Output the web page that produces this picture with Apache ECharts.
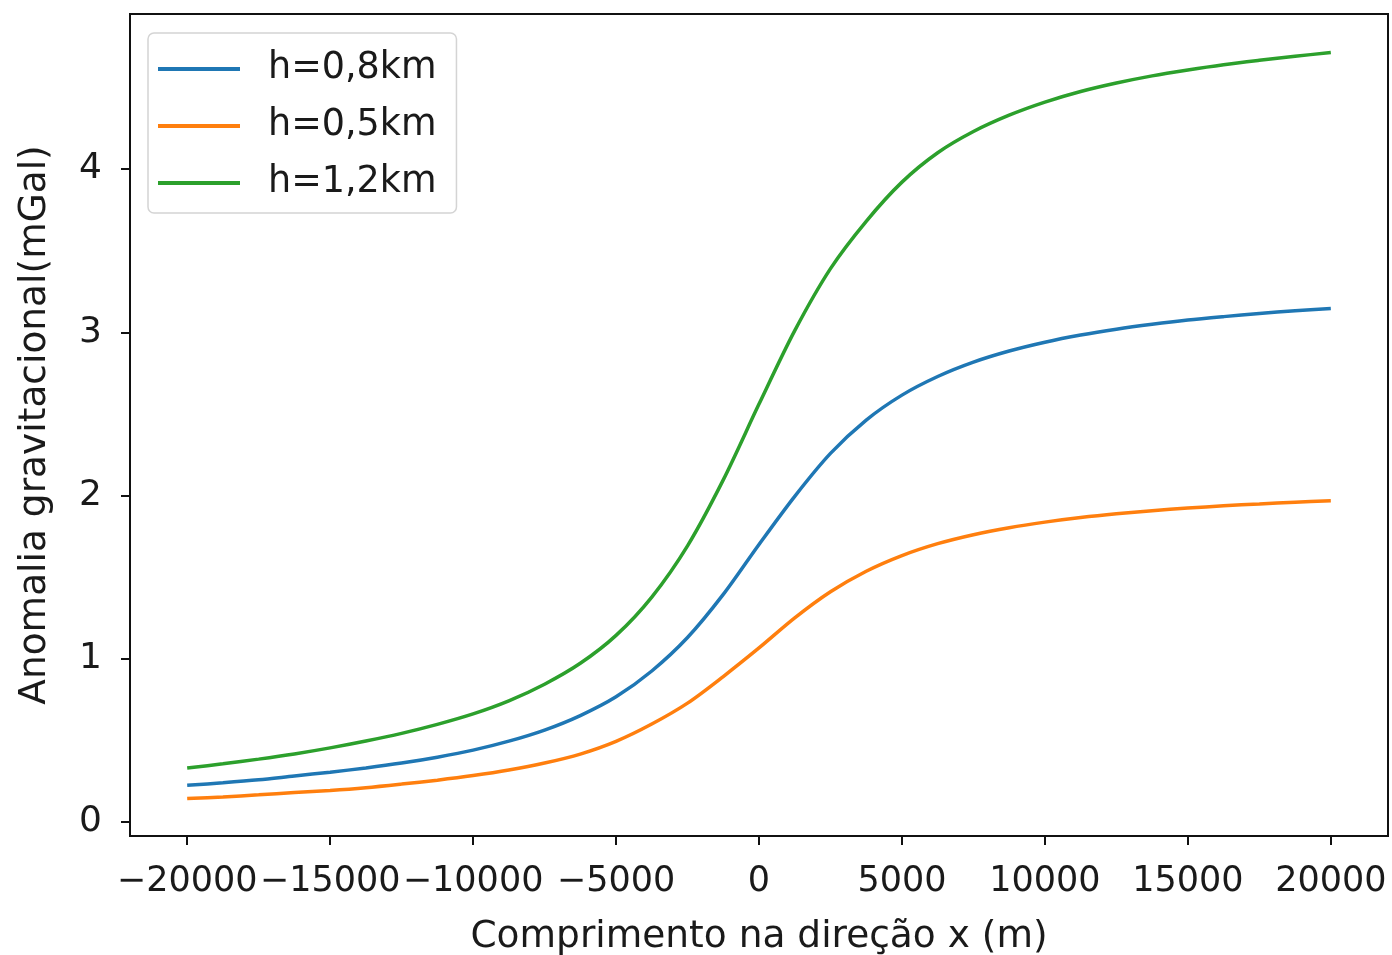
<!DOCTYPE html>
<html>
<head>
<meta charset="utf-8">
<script src="https://cdn.jsdelivr.net/npm/echarts@6/dist/echarts.min.js"></script>
<style>
  html, body { margin: 0; padding: 0; background: #fff; }
  #main { width: 1392px; height: 955px; }
</style>
</head>
<body>
<div id="main"></div>
<script>
// x positions (m), every 1250 m from -20000 to 20000
const xs = [-20000, -18750, -17500, -16250, -15000, -13750, -12500, -11250, -10000,
  -8750, -7500, -6250, -5000, -3750, -2500, -1250, 0,
  1250, 2500, 3750, 5000, 6250, 7500, 8750, 10000,
  11250, 12500, 13750, 15000, 16250, 17500, 18750, 20000];

// anomalia (mGal)
const h08 = [0.225, 0.240, 0.258, 0.282, 0.305, 0.331, 0.361, 0.397, 0.440,
  0.495, 0.563, 0.652, 0.767, 0.925, 1.130, 1.394, 1.700,
  1.995, 2.258, 2.462, 2.615, 2.729, 2.817, 2.885, 2.939,
  2.983, 3.019, 3.049, 3.075, 3.096, 3.115, 3.132, 3.146];
const h05 = [0.143, 0.153, 0.166, 0.180, 0.193, 0.210, 0.232, 0.256, 0.284,
  0.318, 0.361, 0.416, 0.494, 0.600, 0.728, 0.891, 1.066,
  1.250, 1.410, 1.536, 1.632, 1.705, 1.760, 1.803, 1.837,
  1.865, 1.888, 1.907, 1.923, 1.937, 1.948, 1.959, 1.968];
const h12 = [0.330, 0.356, 0.385, 0.417, 0.454, 0.496, 0.543, 0.598, 0.662,
  0.742, 0.844, 0.972, 1.143, 1.378, 1.692, 2.096, 2.560,
  3.010, 3.390, 3.680, 3.920, 4.100, 4.230, 4.330, 4.410,
  4.475, 4.527, 4.571, 4.607, 4.639, 4.666, 4.691, 4.714];

const xTicks = [-20000, -15000, -10000, -5000, 0, 5000, 10000, 15000, 20000];
const yTicks = [0, 1, 2, 3, 4];

const seriesNames = ['h=0,8km', 'h=0,5km', 'h=1,2km'];
const seriesData = [h08, h05, h12];
const colors = ['#1f77b4', '#ff7f0e', '#2ca02c'];

const zip = (ys) => xs.map((x, i) => [x, ys[i]]);
const minus = (v) => String(v).replace('-', '\u2212');

var chart = echarts.init(document.getElementById('main'));
var font = 'DejaVu Sans';

var option = {
  backgroundColor: '#fff',
  animation: false,
  color: colors,
  grid: {
    left: 130, top: 14, right: 4, bottom: 119,
    outerBoundsMode: 'none',
    show: true, borderColor: '#111', borderWidth: 2, backgroundColor: 'transparent'
  },
  legend: {
    orient: 'vertical',
    left: 148, top: 33,
    icon: 'rect',
    itemWidth: 82, itemHeight: 4,
    itemGap: 17,
    padding: [16, 20, 10, 10],
    backgroundColor: '#fff',
    borderColor: '#d4d4d4', borderWidth: 1.5, borderRadius: 6,
    textStyle: { fontFamily: font, fontSize: 36.5, color: '#1a1a1a', lineHeight: 40, padding: [0, 0, 0, 23] },
    data: seriesNames
  },
  xAxis: {
    type: 'value',
    min: -22000, max: 22000,
    name: 'Comprimento na direção x (m)',
    nameLocation: 'middle', nameGap: 82,
    nameTextStyle: { fontFamily: font, fontSize: 37.5, color: '#1a1a1a' },
    splitLine: { show: false },
    axisLine: { show: true, onZero: false, lineStyle: { color: '#111', width: 2 } },
    axisTick: { show: true, customValues: xTicks, length: 9, lineStyle: { color: '#111', width: 2 } },
    axisLabel: {
      customValues: xTicks, margin: 28,
      showMinLabel: true, showMaxLabel: true, hideOverlap: false,
      fontFamily: font, fontSize: 35, color: '#1a1a1a',
      formatter: minus
    }
  },
  yAxis: {
    type: 'value',
    min: -0.086, max: 4.95,
    name: 'Anomalia gravitacional(mGal)',
    nameLocation: 'middle', nameGap: 76,
    nameTextStyle: { fontFamily: font, fontSize: 37.5, color: '#1a1a1a' },
    splitLine: { show: false },
    axisLine: { show: true, onZero: false, lineStyle: { color: '#111', width: 2 } },
    axisTick: { show: true, customValues: yTicks, length: 9, lineStyle: { color: '#111', width: 2 } },
    axisLabel: {
      customValues: yTicks, margin: 28,
      showMinLabel: true, showMaxLabel: true, hideOverlap: false,
      fontFamily: font, fontSize: 36, color: '#1a1a1a'
    }
  },
  series: seriesNames.map((name, i) => ({
    name: name,
    type: 'line',
    smooth: 0.3,
    showSymbol: false,
    lineStyle: { width: 3.5, color: colors[i] },
    data: zip(seriesData[i])
  }))
};

chart.setOption(option);
</script>
</body>
</html>
